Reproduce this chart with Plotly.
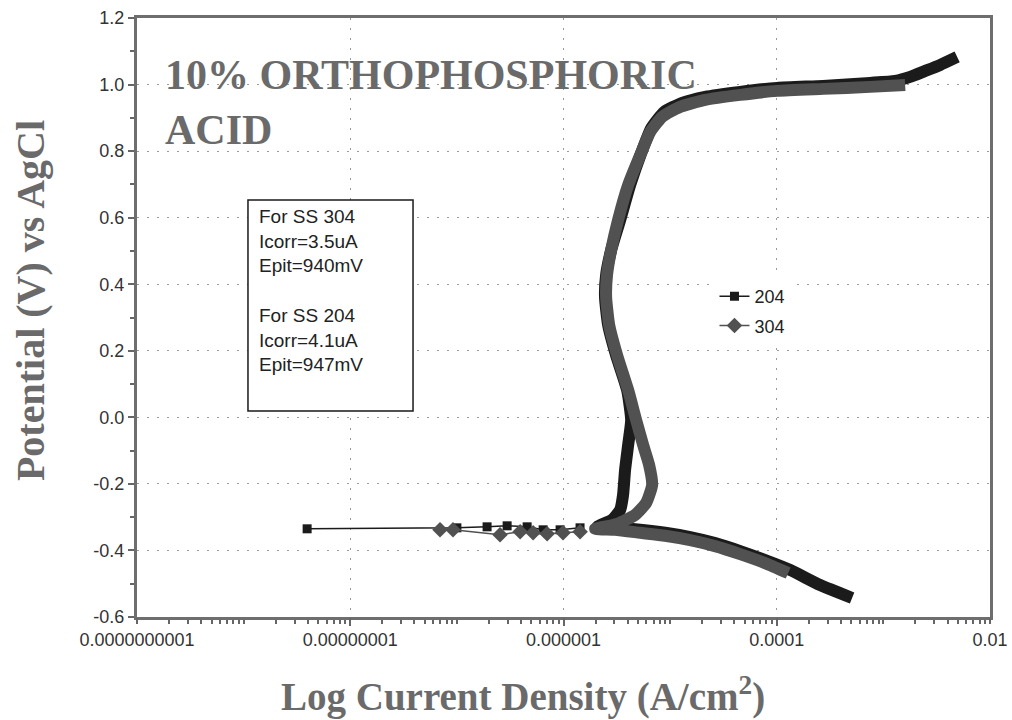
import plotly.graph_objects as go

# ---------------- data (current density A/cm^2, potential V vs AgCl) ----------------
# SS 204 (black)
ss204_cath_i = [5.09e-4, 2.55e-4, 1.34e-4, 7.78e-5, 4.54e-5, 2.64e-5, 1.54e-5, 8.97e-6, 5.24e-6, 3.05e-6, 2.07e-6]
ss204_cath_E = [-0.543, -0.504, -0.459, -0.429, -0.402, -0.378, -0.360, -0.347, -0.338, -0.332, -0.329]
ss204_ecorr_i = [3.94e-9, 1.00e-7, 1.92e-7, 2.96e-7, 4.56e-7, 6.44e-7, 9.29e-7, 1.43e-6]
ss204_ecorr_E = [-0.335, -0.332, -0.329, -0.326, -0.329, -0.338, -0.338, -0.332]
ss204_anod_i = [2.86e-6, 3.40e-6, 3.62e-6, 3.78e-6, 4.04e-6, 4.31e-6, 3.95e-6, 3.11e-6, 2.62e-6,
                2.45e-6, 2.51e-6, 2.80e-6, 3.40e-6, 4.22e-6, 5.35e-6, 6.64e-6, 8.79e-6, 1.30e-5,
                2.13e-5, 4.54e-5, 1.01e-4, 2.72e-4, 7.52e-4, 1.29e-3, 1.78e-3, 2.47e-3, 3.41e-3, 4.92e-3]
ss204_anod_E = [-0.308, -0.278, -0.233, -0.158, -0.083, -0.008, 0.082, 0.187, 0.278,
                0.362, 0.428, 0.503, 0.593, 0.698, 0.794, 0.869, 0.918, 0.945,
                0.963, 0.978, 0.990, 0.996, 1.005, 1.011, 1.023, 1.041, 1.059, 1.083]

# SS 304 (grey)
ss304_cath_i = [1.28e-4, 7.78e-5, 4.54e-5, 2.64e-5, 1.54e-5, 8.97e-6, 5.24e-6, 3.05e-6, 1.98e-6]
ss304_cath_E = [-0.468, -0.438, -0.411, -0.387, -0.369, -0.356, -0.347, -0.338, -0.335]
ss304_ecorr_i = [6.95e-8, 9.20e-8, 2.54e-7, 3.92e-7, 5.19e-7, 7.02e-7, 9.90e-7, 1.43e-6]
ss304_ecorr_E = [-0.338, -0.338, -0.353, -0.344, -0.347, -0.350, -0.347, -0.344]
ss304_anod_i = [3.18e-6, 4.70e-6, 5.96e-6, 6.78e-6, 6.35e-6, 5.58e-6, 4.80e-6, 4.04e-6, 3.18e-6,
                2.68e-6, 2.51e-6, 2.56e-6, 2.80e-6, 3.25e-6, 4.04e-6, 5.24e-6, 6.49e-6, 8.41e-6,
                1.24e-5, 2.13e-5, 4.54e-5, 1.01e-4, 2.72e-4, 7.52e-4, 1.60e-3]
ss304_anod_E = [-0.320, -0.293, -0.257, -0.203, -0.143, -0.083, -0.008, 0.082, 0.187,
                0.278, 0.362, 0.428, 0.503, 0.593, 0.698, 0.788, 0.857, 0.903,
                0.933, 0.954, 0.969, 0.981, 0.987, 0.993, 0.999]

x_label_vals = [1e-10, 1e-8, 1e-6, 1e-4, 1e-2]
x_label_text = ["0.0000000001", "0.00000001", "0.000001", "0.0001", "0.01"]
x_grid_vals = [1e-8, 1e-6, 1e-4]
x_minor_decades = [1e-10, 1e-9, 1e-8, 1e-7, 1e-6, 1e-5, 1e-4, 1e-3]
y_tick_vals = [-0.6, -0.4, -0.2, 0.0, 0.2, 0.4, 0.6, 0.8, 1.0, 1.2]
y_tick_text = ["-0.6", "-0.4", "-0.2", "0.0", "0.2", "0.4", "0.6", "0.8", "1.0", "1.2"]

note_lines_304 = ["For SS 304", "Icorr=3.5uA", "Epit=940mV"]
note_lines_204 = ["For SS 204", "Icorr=4.1uA", "Epit=947mV"]
title_text = "<b>10% ORTHOPHOSPHORIC<br>ACID</b>"
x_title = "<b>Log Current Density (A/cm<sup>2</sup>)</b>"
y_title = "<b>Potential (V) vs AgCl</b>"

C204 = "#1b1b1b"
C304 = "#515151"

fig = go.Figure()

fig.add_trace(go.Scatter(x=ss204_cath_i + ss204_anod_i, y=ss204_cath_E + ss204_anod_E,
                         mode="lines", line=dict(color=C204, width=12, shape="spline", smoothing=0.5),
                         legendgroup="204", showlegend=False, hoverinfo="skip"))
fig.add_trace(go.Scatter(x=ss204_ecorr_i, y=ss204_ecorr_E, name="204",
                         mode="lines+markers", line=dict(color=C204, width=1.5),
                         marker=dict(symbol="square", size=9, color=C204),
                         legendgroup="204"))
fig.add_trace(go.Scatter(x=ss304_cath_i + ss304_anod_i, y=ss304_cath_E + ss304_anod_E,
                         mode="lines", line=dict(color=C304, width=12, shape="spline", smoothing=0.5),
                         legendgroup="304", showlegend=False, hoverinfo="skip"))
fig.add_trace(go.Scatter(x=ss304_ecorr_i, y=ss304_ecorr_E, name="304",
                         mode="lines+markers", line=dict(color=C304, width=1.5),
                         marker=dict(symbol="diamond", size=12, color=C304),
                         legendgroup="304"))
# invisible trace that activates the label axis (x2)
fig.add_trace(go.Scatter(x=[1e-10, 1e-2], y=[None, None], xaxis="x2", showlegend=False,
                         hoverinfo="skip", mode="lines"))

axis_font = dict(family="Liberation Sans, Arial, sans-serif", size=18, color="#333333")
note_font = dict(family="Liberation Sans, Arial, sans-serif", size=19, color="#222222")
grid_dash = "2px,8px"

fig.update_layout(
    width=1012, height=720,
    margin=dict(l=137, r=22, t=18, b=103),
    paper_bgcolor="white", plot_bgcolor="white",
    xaxis=dict(type="log", range=[-10, -2], automargin=False,
               tickmode="array", tickvals=x_grid_vals, showticklabels=False,
               showgrid=True, gridcolor="#9a9a9a", griddash=grid_dash, gridwidth=1,
               ticks="outside", ticklen=6, tickwidth=1.5, tickcolor="#666666",
               showline=True, linecolor="#6e6e6e", linewidth=3, mirror=True, zeroline=False,
               minor=dict(ticks="outside", ticklen=4, tickcolor="#666666", showgrid=False,
                          tickmode="array",
                          tickvals=[m * d for d in x_minor_decades for m in range(1, 10)] + [1e-2])),
    xaxis2=dict(type="log", range=[-10, -2], overlaying="x", side="bottom", anchor="y",
                automargin=False, tickmode="array", tickvals=x_label_vals, ticktext=x_label_text,
                showgrid=False, ticks="outside", ticklen=6, tickwidth=1.5, tickcolor="#666666",
                tickfont=axis_font, showline=False, zeroline=False),
    yaxis=dict(range=[-0.6, 1.2], automargin=False, tickmode="array",
               tickvals=y_tick_vals, ticktext=y_tick_text,
               showgrid=True, gridcolor="#9a9a9a", griddash=grid_dash, gridwidth=1,
               ticks="outside", ticklen=6, tickwidth=1.5, tickcolor="#666666",
               showline=True, linecolor="#6e6e6e", linewidth=3, mirror=True,
               tickfont=axis_font, zeroline=False,
               minor=dict(ticks="outside", ticklen=4, dtick=0.1, tick0=0, tickcolor="#666666", showgrid=False)),
    showlegend=True,
    legend=dict(x=0.677, y=0.566, xanchor="left", yanchor="top",
                bgcolor="white", borderwidth=0, tracegroupgap=3,
                font=dict(family="Liberation Sans, Arial, sans-serif", size=18, color="#222222")),
    shapes=[dict(type="rect", xref="paper", yref="paper",
                 x0=0.1301, x1=0.3236, y0=0.3439, y1=0.6962,
                 line=dict(color="#1a1a1a", width=1.5), fillcolor="white", layer="above")],
    annotations=[
        dict(text="<br>".join(note_lines_304), xref="paper", yref="paper", x=0.1407, y=0.690,
             xanchor="left", yanchor="top", align="left", showarrow=False, font=note_font),
        dict(text="<br>".join(note_lines_204), xref="paper", yref="paper", x=0.1407, y=0.5245,
             xanchor="left", yanchor="top", align="left", showarrow=False, font=note_font),
        dict(text=title_text, xref="paper", yref="paper", x=0.0305, y=0.947,
             xanchor="left", yanchor="top", align="left", showarrow=False,
             font=dict(family="Liberation Serif, Times New Roman, serif", size=42, color="#6a6a6a")),
        dict(text=x_title, xref="paper", yref="paper",
             x=0.452, y=-0.130, xanchor="center", yanchor="middle", showarrow=False,
             font=dict(family="Liberation Serif, Times New Roman, serif", size=39, color="#6a6a6a")),
        dict(text=y_title, xref="paper", yref="paper",
             x=-0.1254, y=0.5275, xanchor="center", yanchor="middle", textangle=-90, showarrow=False,
             font=dict(family="Liberation Serif, Times New Roman, serif", size=40, color="#6a6a6a")),
    ],
)

fig.write_html("out.html")
